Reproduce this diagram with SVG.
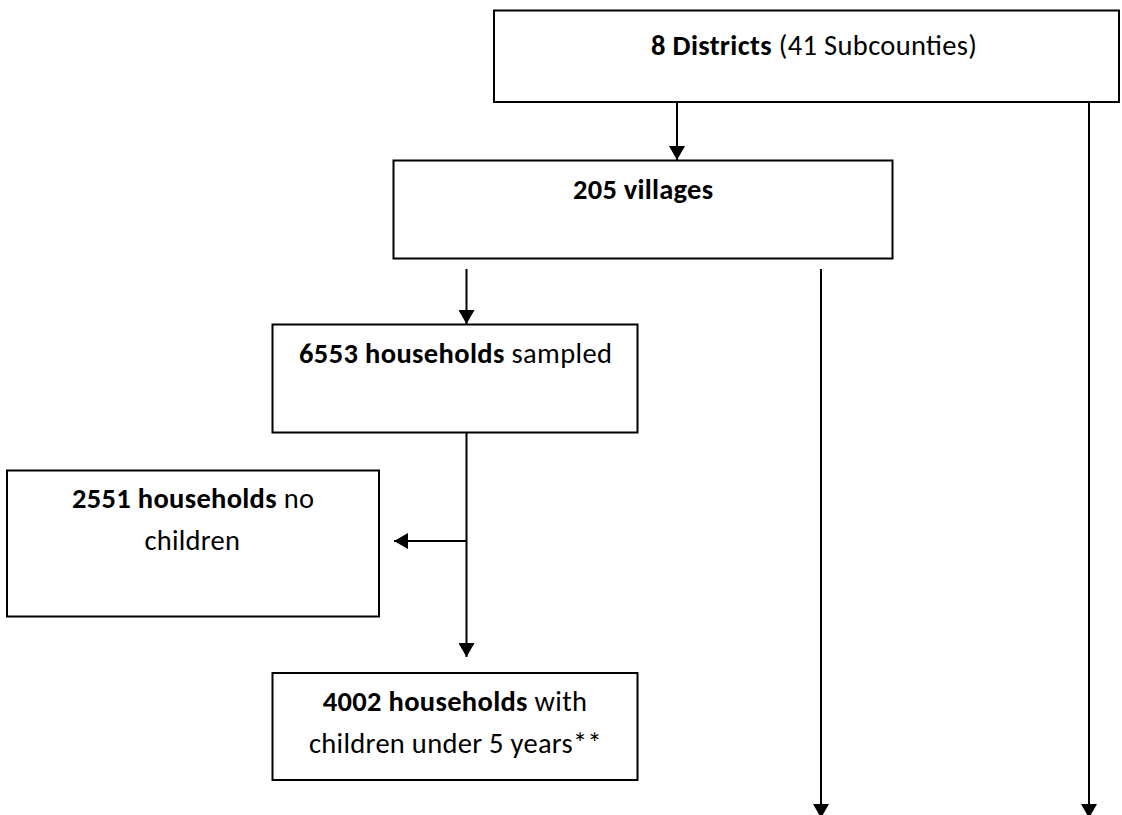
<svg xmlns="http://www.w3.org/2000/svg" width="1122" height="815" viewBox="0 0 1122 815">
  <style>
    .box { fill: #ffffff; stroke: #000000; stroke-width: 2; }
    .conn { fill: none; stroke: #000000; stroke-width: 2; marker-end: url(#arrow); }
    .t { font-family: Calibri, Carlito, "Liberation Sans", Arial, sans-serif; font-size: 28.5px; fill: #000000; }
    .b { font-weight: bold; }
  </style>
  <defs>
    <marker id="arrow" markerUnits="userSpaceOnUse" markerWidth="14" markerHeight="16" viewBox="0 0 14 16" refX="14" refY="8" orient="auto">
      <path d="M0,0 L14,8 L0,16 z" fill="#000000"/>
    </marker>
  </defs>
  <rect width="1122" height="815" fill="#ffffff"/>

  <g id="connectors">
    <path class="conn" d="M677,102 L677,160"/>
    <path class="conn" d="M1089,102 L1089,818"/>
    <path class="conn" d="M466.5,269 L466.5,324"/>
    <path class="conn" d="M821,269 L821,818"/>
    <path class="conn" d="M466.5,433 L466.5,657"/>
    <path class="conn" d="M466.5,541 L394,541"/>
  </g>

  <g id="districts">
    <rect class="box" x="494" y="10.5" width="625" height="91.5"/>
    <text class="t" x="651" y="55" textLength="326"><tspan class="b">8 Districts</tspan> (41 Subcounties)</text>
  </g>

  <g id="villages">
    <rect class="box" x="393.5" y="160.5" width="499" height="98"/>
    <text class="t" x="573" y="199" textLength="140"><tspan class="b">205 villages</tspan></text>
  </g>

  <g id="sampled">
    <rect class="box" x="272.5" y="324.5" width="365" height="108"/>
    <text class="t" x="299" y="363" textLength="313"><tspan class="b">6553 households</tspan> sampled</text>
  </g>

  <g id="nochildren">
    <rect class="box" x="7" y="470.5" width="372" height="146"/>
    <text class="t" x="72" y="508" textLength="242"><tspan class="b">2551 households</tspan> no</text>
    <text class="t" x="144.5" y="550" textLength="95.5">children</text>
  </g>

  <g id="withchildren">
    <rect class="box" x="272.5" y="673" width="365" height="107"/>
    <text class="t" x="322.7" y="711" textLength="264.3"><tspan class="b">4002 households</tspan> with</text>
    <text class="t" x="309" y="752.7" textLength="292.7">children under 5 years**</text>
  </g>
</svg>
